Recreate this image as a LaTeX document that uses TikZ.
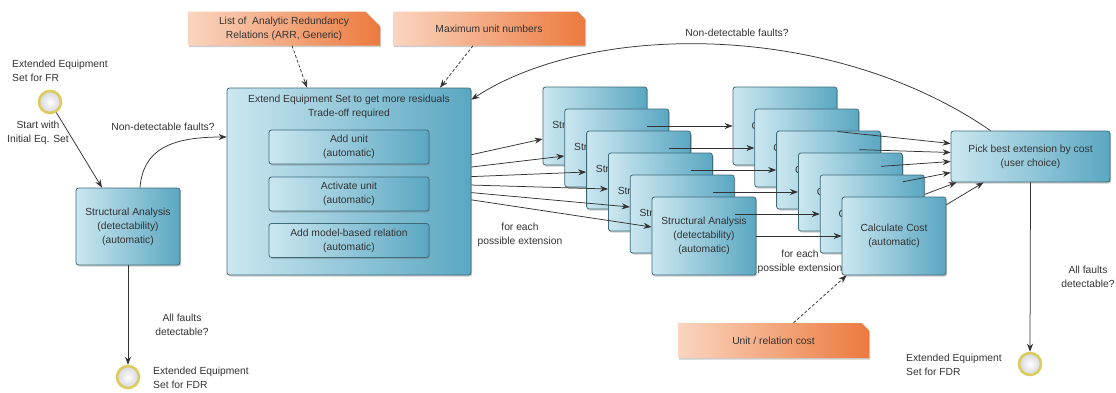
\documentclass[tikz,border=0pt]{standalone}
\usepackage{fontspec}
\setmainfont{Liberation Sans}
\usetikzlibrary{arrows.meta,shapes.misc,shadows}

\definecolor{boxL}{HTML}{CBE7F0}
\definecolor{boxR}{HTML}{5AA7C2}
\definecolor{boxD}{HTML}{3E6B7A}
\definecolor{noteL}{HTML}{FAD5C0}
\definecolor{noteR}{HTML}{EC7A3E}
\definecolor{ink}{HTML}{333333}
\definecolor{ring}{HTML}{DCCB5E}
\definecolor{ballC}{HTML}{D6D6DC}

\tikzset{
  every node/.style={text=ink, font=\fontsize{10.3}{14}\selectfont},
  softshadow/.style={drop shadow={shadow xshift=1.2pt, shadow yshift=-1.6pt, opacity=0.4}},
  procbox/.style={rectangle, rounded corners=2.5pt, draw=boxD, line width=0.8pt,
    left color=boxL, right color=boxR, align=center, inner sep=0pt, softshadow},
  stackbox/.style={procbox, minimum width=104pt, minimum height=78pt},
  notebox/.style={chamfered rectangle, chamfered rectangle corners=north east,
    chamfered rectangle xsep=11pt, left color=noteL, right color=noteR,
    minimum width=192pt, minimum height=34pt, align=center, inner sep=0pt, softshadow},
  event/.style={circle, draw=ring, line width=2.6pt, inner color=white,
    outer color=ballC, minimum size=22pt, inner sep=0pt},
  lbl/.style={align=center, inner sep=0pt},
  flow/.style={draw=ink, line width=0.75pt, -{Stealth[length=8pt,width=6pt]}},
  assoc/.style={flow, dash pattern=on 3pt off 2pt}
}

\begin{document}
\begin{tikzpicture}[x=1pt,y=-1pt]
\useasboundingbox[fill=white] (0,0) rectangle (1116,392);

% input notes
\node[notebox] (n1) at (284,28.5) {List of\ \ Analytic Redundancy\\Relations (ARR, Generic)};
\node[notebox] (n2) at (489,28.5) {Maximum unit numbers};
\node[notebox, minimum width=191pt, minimum height=35pt] (n3) at (773.5,340.5) {Unit / relation cost};

% start and end events
\node[event] (start) at (50,102) {};
\node[lbl, anchor=west, align=left] (startlbl) at (12,71) {Extended Equipment\\Set for FR};
\node[event] (endA) at (128,377) {};
\node[lbl, anchor=west, align=left] (endAlbl) at (153,378) {Extended Equipment\\Set for FDR};
\node[event] (endB) at (1030,364) {};
\node[lbl, anchor=west, align=left] (endBlbl) at (906,365) {Extended Equipment\\Set for FDR};

% first analysis
\node[procbox, minimum width=104pt, minimum height=77pt] (sa0) at (128,226.5)
  {Structural Analysis\\(detectability)\\(automatic)};

% extension step with its sub-tasks
\node[procbox, minimum width=244pt, minimum height=187pt] (ext) at (349,181.5) {};
\node[lbl] (exttitle) at (349,107) {Extend Equipment Set to get more residuals\\Trade-off required};
\node[procbox, minimum width=160pt, minimum height=34pt] (addu) at (349,147) {Add unit\\(automatic)};
\node[procbox, minimum width=160pt, minimum height=34pt] (actu) at (349,194) {Activate unit\\(automatic)};
\node[procbox, minimum width=160pt, minimum height=34pt] (addr) at (349,240.5) {Add model-based relation\\(automatic)};

% stacked analyses, one per extension
\foreach \i in {1,...,5} {
  \node[stackbox] (sa\i) at ({595+21.8*(\i-1)},{126+22*(\i-1)}) {Structural Analysis};
}
\node[stackbox] (sa6) at (704,236) {Structural Analysis\\(detectability)\\(automatic)};

% stacked cost calculations
\foreach \i in {1,...,5} {
  \node[stackbox] (cost\i) at ({785+21.8*(\i-1)},{126+22*(\i-1)}) {Calculate Cost};
}
\node[stackbox] (cost6) at (894,236) {Calculate Cost\\(automatic)};

% final choice
\node[procbox, minimum width=159pt, minimum height=51pt] (pick) at (1030.5,156.5)
  {Pick best extension by cost\\(user choice)};

% main flow
\draw[flow] (start) -- ([xshift=-26pt]sa0.north);
\node[lbl] (startwith) at (38,133) {Start with\\Initial Eq. Set};
\draw[flow] ([xshift=12pt]sa0.north) .. controls (143,150) and (170,137) .. ([yshift=44.5pt]ext.west);
\node[lbl] (ndf1) at (163,127) {Non-detectable faults?};
\draw[flow] (sa0.south) -- (endA.north);
\node[lbl] (afd1) at (182,325) {All faults\\detectable?};

% fan-out to the analyses
\draw[flow] (ext) -- ([yshift=-13pt]sa1.west);
\draw[flow] (ext) -- ([yshift=-8pt]sa2.west);
\draw[flow] (ext) -- ([yshift=-2pt]sa3.west);
\draw[flow] (ext) -- ([yshift=3pt]sa4.west);
\draw[flow] (ext) -- ([yshift=7pt]sa5.west);
\draw[flow] (ext) -- ([yshift=9pt]sa6.west);
\node[lbl] (fe1) at (520,235) {for each\\possible extension};

% analyses to costs
\foreach \i in {1,...,6} {
  \draw[flow] (sa\i.east) -- (cost\i.west);
}
\node[lbl] (fe2) at (800,262) {for each\\possible extension};

% costs to the choice
\draw[flow] (cost1) -- ([yshift=13pt]pick.west);
\draw[flow] (cost2) -- ([yshift=4pt]pick.west);
\draw[flow] (cost3) -- ([yshift=-5pt]pick.west);
\draw[flow] (cost4) -- ([yshift=-16pt]pick.west);
\draw[flow] (cost5) -- ([xshift=6pt]pick.south west);
\draw[flow] (cost6) -- ([xshift=33pt]pick.south west);

% loop back and finish
\draw[flow] ([xshift=-40pt]pick.north) .. controls (830,20) and (590,22) .. ([yshift=-12pt]ext.north east);
\node[lbl] (ndf2) at (737,33) {Non-detectable faults?};
\draw[flow] (pick.south) -- (endB.north);
\node[lbl] (afd2) at (1088,277) {All faults\\detectable?};

% inputs
\draw[assoc] ([xshift=8pt]n1.south) -- ([xshift=-42pt]ext.north);
\draw[assoc] ([xshift=-16pt]n2.south) -- ([xshift=91pt]ext.north);
\draw[assoc] ([xshift=20pt]n3.north) -- ([xshift=5pt]cost6.south west);
\end{tikzpicture}
\end{document}
